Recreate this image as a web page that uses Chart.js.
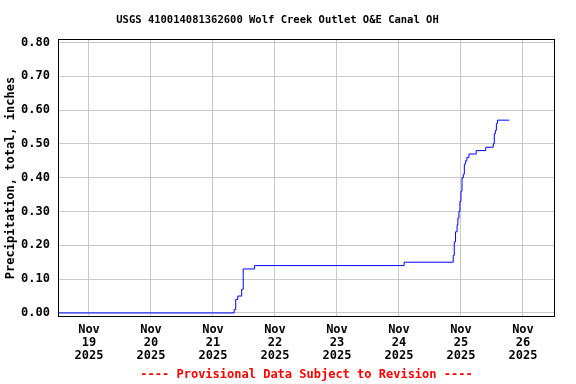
<!DOCTYPE html>
<html>
<head>
<meta charset="utf-8">
<script src="https://cdn.jsdelivr.net/npm/chart.js@4"></script>
<style>
  html, body { margin: 0; padding: 0; background: #fff; }
  #wrap { width: 576px; height: 384px; position: relative; }
</style>
</head>
<body>
<div id="wrap"><canvas id="chart"></canvas></div>
<script>
// hours after Nov 19 2025 00:00, and cumulative precipitation (inches) from that time on
const hours = [-12, 56.2, 56.8, 57.6, 59.1, 59.7, 64.1, 122.0, 141.0, 141.4, 141.9, 142.5, 142.8, 143.2,
    143.6, 144.0, 144.4, 144.9, 145.3, 145.8, 146.3, 147.1, 149.9, 153.6, 156.5, 156.9, 157.3, 157.7, 158.1, 162.7];
const precip = [0.00, 0.01, 0.04, 0.05, 0.07, 0.13, 0.14, 0.15, 0.17, 0.21, 0.24, 0.26, 0.28, 0.30,
    0.33, 0.36, 0.40, 0.41, 0.44, 0.45, 0.46, 0.47, 0.48, 0.49, 0.50, 0.53, 0.54, 0.56, 0.57, 0.57];

const dayTicks = [0, 24, 48, 72, 96, 120, 144, 168];
const dayLabels = ['19', '20', '21', '22', '23', '24', '25', '26'];
const yTicks = [0, 0.1, 0.2, 0.3, 0.4, 0.5, 0.6, 0.7, 0.8];

const mono = 'DejaVu Sans Mono';
const gridColor = '#c8c8c8';

// black frame round the plot area
const frame = {
    id: 'frame',
    afterDraw(chart) {
        const a = chart.chartArea;
        const ctx = chart.ctx;
        ctx.save();
        ctx.strokeStyle = '#000';
        ctx.lineWidth = 1;
        ctx.strokeRect(Math.round(a.left) + 0.5, Math.round(a.top) + 0.5,
            Math.round(a.right - a.left) - 1, Math.round(a.bottom - a.top) - 1);
        ctx.restore();
    }
};

new Chart(document.getElementById('chart'), {
    type: 'line',
    data: {
        datasets: [{
            data: hours.map((h, i) => ({ x: h, y: precip[i] })),
            borderColor: '#0000ff',
            borderWidth: 1,
            pointRadius: 0,
            stepped: true,
            fill: false
        }]
    },
    options: {
        responsive: true,
        maintainAspectRatio: false,
        animation: false,
        layout: { padding: { left: 0, right: 21, top: 0, bottom: 0 } },
        plugins: {
            legend: { display: false },
            tooltip: { enabled: false },
            title: {
                display: true,
                text: 'USGS 410014081362600 Wolf Creek Outlet O&E Canal OH',
                color: '#000',
                font: { family: mono, size: 10.5, weight: 'bold' },
                padding: { top: 14, bottom: 12.4 }
            }
        },
        scales: {
            x: {
                type: 'linear',
                min: -12,
                max: 180.4,
                afterBuildTicks: s => { s.ticks = dayTicks.map(v => ({ value: v })); },
                afterFit: s => { s.height = 67; },
                grid: { color: gridColor, drawTicks: false },
                border: { display: false },
                ticks: {
                    color: '#000',
                    padding: 6.5,
                    maxRotation: 0,
                    autoSkip: false,
                    font: { family: mono, size: 12, weight: 'bold', lineHeight: 13 / 12 },
                    callback: v => ['Nov', dayLabels[dayTicks.indexOf(v)], '2025']
                },
                title: {
                    display: true,
                    text: '---- Provisional Data Subject to Revision ----',
                    color: '#ff0000',
                    font: { family: mono, size: 12, weight: 'bold' },
                    padding: { top: 0, bottom: 1.8 }
                }
            },
            y: {
                min: -0.012,
                max: 0.81,
                afterBuildTicks: s => { s.ticks = yTicks.map(v => ({ value: v })); },
                afterFit: s => { s.width = 58; },
                grid: { color: gridColor, drawTicks: false },
                border: { display: false },
                ticks: {
                    color: '#000',
                    padding: 8,
                    font: { family: mono, size: 12, weight: 'bold' },
                    callback: v => v.toFixed(2)
                },
                title: {
                    display: true,
                    text: 'Precipitation, total, inches',
                    color: '#000',
                    font: { family: mono, size: 12, weight: 'bold' }
                }
            }
        }
    },
    plugins: [frame]
});
</script>
</body>
</html>
